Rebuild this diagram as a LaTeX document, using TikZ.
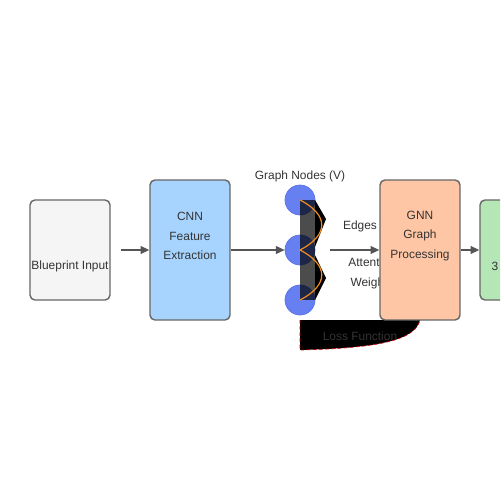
\documentclass[tikz,border=0pt]{standalone}
\usepackage{fontspec}
\setmainfont{Liberation Sans}
\usepackage{xcolor}
\usepackage{tikz}
\usetikzlibrary{arrows.meta}
\definecolor{boxline}{HTML}{666666}
\definecolor{txtgray}{HTML}{333333}
\definecolor{arrowgray}{HTML}{555555}
\definecolor{inputfill}{HTML}{F5F5F5}
\definecolor{cnnfill}{HTML}{A6D4FF}
\definecolor{gnnfill}{HTML}{FFC6A5}
\definecolor{outfill}{HTML}{B5E6B5}
\definecolor{nodefill}{HTML}{6680F2}
\definecolor{nodeline}{HTML}{5A74E6}
\definecolor{curveorange}{HTML}{F08A1C}

\begin{document}
\begin{tikzpicture}[x=0.02cm,y=-0.02cm,font=\fontsize{6.8}{8}\selectfont]
		\tikzstyle{box}=[draw=boxline,line width=0.8pt,rounded corners=2.8pt,minimum width=1.6cm,inner sep=0pt]
		\tikzstyle{txt}=[text=txtgray,inner sep=0pt,align=center,font=\fontsize{6.8}{11.3}\selectfont]
		\tikzstyle{arrow}=[draw=arrowgray,line width=0.8pt,-{Triangle[length=5pt,width=4.5pt]}]
		\tikzstyle{vnode}=[circle,draw=nodeline,fill=nodefill,line width=0.4pt,minimum size=0.6cm,inner sep=0pt]
		\clip (0,0) rectangle (500,500);
		\node[box,fill=inputfill,minimum height=2cm] (inp) at (70,250) {};
		\node[txt] (inptext) at (70,266) {Blueprint Input};
		\node[box,fill=cnnfill,minimum height=2.8cm] (cnn) at (190,250) {};
		\node[txt] (cnntext) at (190,236) {CNN\\Feature\\Extraction};
		\node[vnode] (v1) at (300,200) {};
		\node[vnode] (v2) at (300,250) {};
		\node[vnode] (v3) at (300,300) {};
		\fill[black] (315,200) -- (326,219) -- (315,247) -- cycle;
		\fill[black] (315,255) -- (326,278) -- (315,300) -- cycle;
		\fill[black,opacity=0.7] (v1.center) rectangle (315,300);
		\draw[curveorange,line width=0.7pt] (v1.center) .. controls (329,215) and (329,235) .. (v2.center)
			.. controls (329,265) and (329,285) .. (v3.center);
		\node[txt] (vtext) at (300,176) {Graph Nodes (V)};
		\node[txt] (etext) at (360,226) {Edges};
		\node[txt] (wtext) at (372,273) {Attention\\Weights};
		\coordinate (lossa) at (300,320);
		\coordinate (lossb) at (300,350);
		\coordinate (lossc) at (420,320);
		\fill[black] (lossa) -- (lossb) .. controls (380,348) and (415,340) .. (lossc) -- cycle;
		\draw[red!80!black,dashed,line width=0.4pt,dash pattern=on 2pt off 1.5pt] (lossa) -- (lossb) .. controls (380,348) and (415,340) .. (lossc);
		\node[txt] (losstext) at (360,336) {Loss Function};
		\node[box,fill=gnnfill,minimum height=2.8cm] (gnn) at (420,250) {};
		\node[txt] (gnntext) at (420,236) {GNN\\Graph\\Processing};
		\node[box,fill=outfill,minimum height=2cm] (out) at (520,250) {};
		\node[txt] (outtext) at (495,266) {3};
		\draw[arrow] ([xshift=0.2cm]inp.east) -- (cnn.west);
		\draw[arrow] (cnn.east) -- (v2.west);
		\draw[arrow] ([xshift=0.6cm]v2.center) -- (gnn.west);
		\draw[arrow] (gnn.east) -- (out.west);
		\end{tikzpicture}
\end{document}
